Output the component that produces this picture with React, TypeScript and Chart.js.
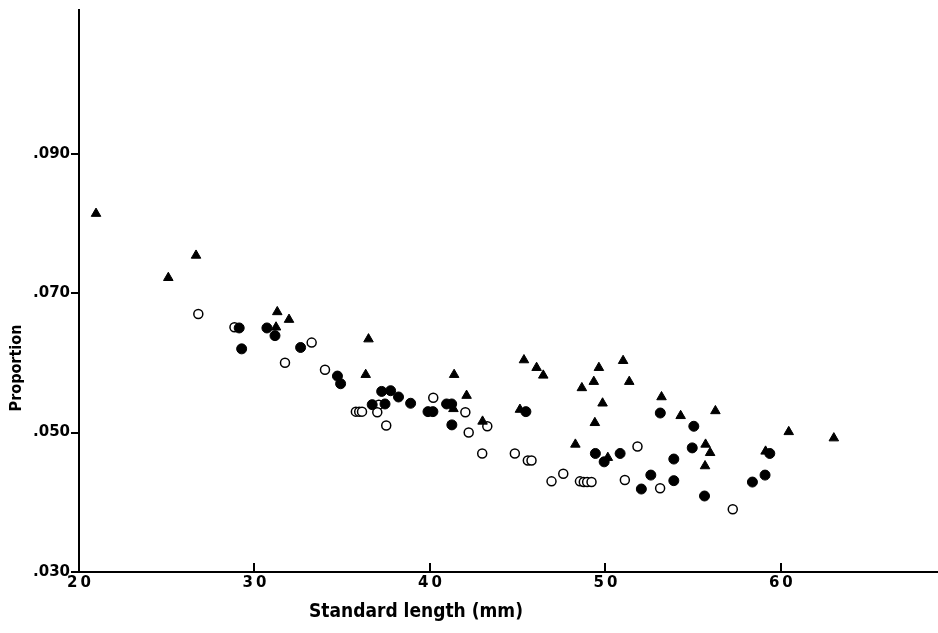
import React, { useEffect, useRef } from "react";
import { Chart, registerables } from "chart.js";

Chart.register(...registerables);

// Triangles
const triX = [20.97, 25.09, 26.67, 31.30, 31.97, 31.23, 36.50, 36.34, 41.38, 42.09, 41.34, 43.00, 45.36, 46.08, 46.46, 45.13, 48.29, 48.66, 49.34, 49.63, 49.40, 49.84, 51.01, 51.36, 50.14, 53.20, 54.29, 56.27, 55.71, 55.97, 55.68, 59.13, 60.45, 63.02];
const triY = [0.0814, 0.0722, 0.0754, 0.0673, 0.0662, 0.0651, 0.0634, 0.0583, 0.0583, 0.0553, 0.0534, 0.0516, 0.0604, 0.0593, 0.0582, 0.0533, 0.0483, 0.0564, 0.0573, 0.0593, 0.0514, 0.0542, 0.0603, 0.0573, 0.0464, 0.0551, 0.0524, 0.0531, 0.0483, 0.0471, 0.0452, 0.0473, 0.0501, 0.0492];

// Filled circles
const dotX = [29.13, 29.27, 30.71, 31.17, 32.63, 34.73, 34.91, 37.25, 37.76, 38.21, 38.90, 36.71, 37.44, 39.89, 40.17, 40.95, 41.24, 41.25, 45.47, 49.43, 49.93, 50.84, 52.59, 52.05, 53.13, 53.90, 53.90, 54.95, 55.04, 55.65, 59.37, 59.10, 58.38];
const dotY = [0.0650, 0.0620, 0.0650, 0.0639, 0.0622, 0.0581, 0.0570, 0.0559, 0.0560, 0.0551, 0.0542, 0.0540, 0.0541, 0.0530, 0.0530, 0.0541, 0.0541, 0.0511, 0.0530, 0.0470, 0.0458, 0.0470, 0.0439, 0.0419, 0.0528, 0.0431, 0.0462, 0.0478, 0.0509, 0.0409, 0.0470, 0.0439, 0.0429];

// Open circles
const ringX = [26.80, 28.86, 33.26, 31.74, 34.02, 35.78, 35.97, 36.13, 37.09, 37.00, 37.51, 40.19, 42.02, 42.21, 43.27, 42.98, 44.84, 45.58, 45.79, 46.93, 47.60, 48.55, 48.77, 48.96, 49.21, 51.83, 51.11, 53.12, 57.26];
const ringY = [0.0670, 0.0651, 0.0629, 0.0600, 0.0590, 0.0530, 0.0530, 0.0530, 0.0540, 0.0529, 0.0510, 0.0550, 0.0529, 0.0500, 0.0509, 0.0470, 0.0470, 0.0460, 0.0460, 0.0430, 0.0441, 0.0430, 0.0429, 0.0429, 0.0429, 0.0480, 0.0432, 0.0420, 0.0390];

const xTicks = [20, 30, 40, 50, 60];
const yTicks = [0.03, 0.05, 0.07, 0.09];
const xTitle = "Standard length (mm)";
const yTitle = "Proportion";

const toPts = (xs: number[], ys: number[]) => xs.map((x, i) => ({ x, y: ys[i] }));

export default function App() {
  const ref = useRef<HTMLCanvasElement | null>(null);

  useEffect(() => {
    if (!ref.current) return;
    const decor = {
      id: "decor",
      afterDraw(chart: any) {
        const ctx = chart.ctx;
        const xs = chart.scales.x;
        const area = chart.chartArea;
        ctx.save();
        ctx.strokeStyle = "#000";
        ctx.lineWidth = 2;
        xTicks.forEach((v) => {
          if (v === xs.min) return;
          const px = Math.round(xs.getPixelForValue(v));
          ctx.beginPath();
          ctx.moveTo(px, area.bottom);
          ctx.lineTo(px, area.bottom - 9);
          ctx.stroke();
        });
        ctx.fillStyle = "#000";
        ctx.font = "bold 19px 'DejaVu Sans Condensed', 'DejaVu Sans'";
        ctx.textAlign = "center";
        ctx.textBaseline = "middle";
        ctx.fillText(xTitle, 416, 612);
        ctx.translate(17, 368);
        ctx.rotate(-Math.PI / 2);
        ctx.font = "bold 16px 'DejaVu Sans Condensed', 'DejaVu Sans'";
        ctx.fillText(yTitle, 0, 0);
        ctx.restore();
      },
    };

    const chart = new Chart(ref.current, {
      type: "scatter",
      data: {
        datasets: [
          {
            label: "triangles",
            data: toPts(triX, triY),
            pointStyle: "triangle",
            radius: 5.5,
            backgroundColor: "#000",
            borderColor: "#000",
            borderWidth: 1,
          },
          {
            label: "filled",
            data: toPts(dotX, dotY),
            pointStyle: "circle",
            radius: 5,
            backgroundColor: "#000",
            borderColor: "#000",
            borderWidth: 1,
          },
          {
            label: "open",
            data: toPts(ringX, ringY),
            pointStyle: "circle",
            radius: 4.5,
            backgroundColor: "#fff",
            borderColor: "#000",
            borderWidth: 1.5,
          },
        ],
      },
      plugins: [decor],
      options: {
        animation: false,
        responsive: false,
        events: [],
        layout: { autoPadding: false, padding: { top: 8, right: 1, left: 0, bottom: 0 } },
        plugins: { legend: { display: false }, tooltip: { enabled: false } },
        scales: {
          x: {
            type: "linear",
            min: 20,
            max: 68.9,
            afterFit: (s: any) => {
              s.height = 61;
            },
            afterBuildTicks: (s: any) => {
              s.ticks = xTicks.map((v) => ({ value: v }));
            },
            grid: { display: true, drawOnChartArea: false, drawTicks: false },
            border: { display: true, color: "#000", width: 2 },
            ticks: {
              color: "#000",
              padding: 2,
              maxRotation: 0,
              font: { family: "'DejaVu Sans'", weight: "bold", size: 15 },
              callback: (v: any) => String(v).split("").join("\u2009"),
            },
          },
          y: {
            type: "linear",
            min: 0.03,
            max: 0.1106,
            afterFit: (s: any) => {
              s.width = 79;
            },
            afterBuildTicks: (s: any) => {
              s.ticks = yTicks.map((v) => ({ value: v }));
            },
            grid: {
              display: true,
              drawOnChartArea: false,
              drawTicks: true,
              tickLength: 8,
              color: "#000",
              lineWidth: 2,
            },
            border: { display: true, color: "#000", width: 2 },
            ticks: {
              color: "#000",
              padding: 1,
              font: { family: "'DejaVu Sans'", weight: "bold", size: 15 },
              callback: (v: any) => Number(v).toFixed(3).replace(/^0/, ""),
            },
          },
        },
      },
    });
    return () => chart.destroy();
  }, []);

  return (
    <div style={{ position: "fixed", left: 0, top: 0, width: 938, height: 633, background: "#fff" }}>
      <canvas ref={ref} width={938} height={633} style={{ display: "block" }} />
    </div>
  );
}
